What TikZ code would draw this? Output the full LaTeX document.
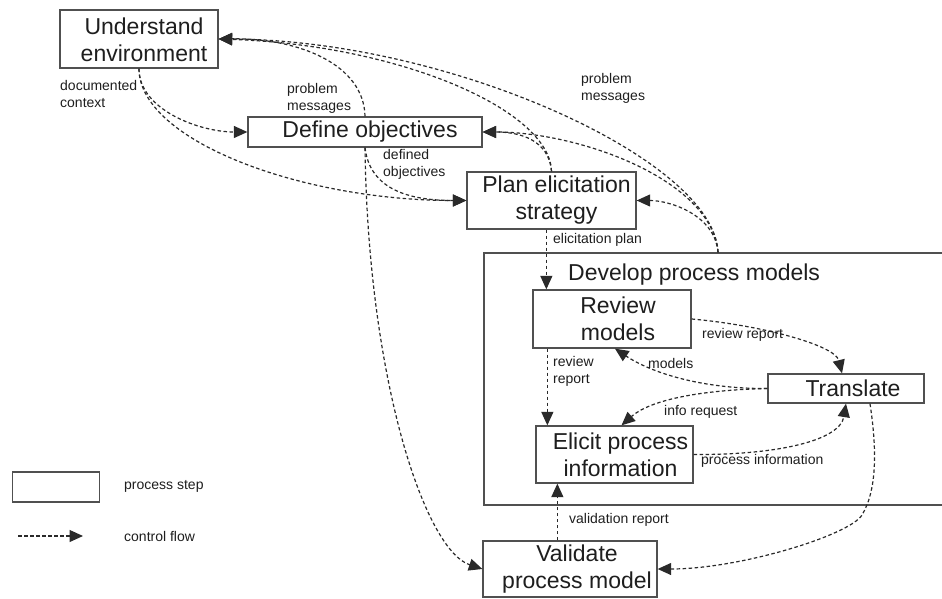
\documentclass[tikz,border=0pt]{standalone}
\usepackage{fontspec}
\setmainfont{Liberation Sans}
\usetikzlibrary{arrows.meta}
\definecolor{ink}{HTML}{1E1E1E}
\definecolor{boxgray}{HTML}{505050}
\definecolor{linegray}{HTML}{2A2A2A}

\begin{document}
\begin{tikzpicture}[x=1pt,y=-1pt,
  stepbox/.style={draw=boxgray, line width=1.3pt, fill=white, inner sep=0pt},
  steptext/.style={font=\fontsize{23}{27}\selectfont, align=center, text=ink, inner sep=0pt},
  lbl/.style={font=\fontsize{14}{17}\selectfont, align=left, anchor=west, text=ink, inner sep=0pt},
  flow/.style={draw=linegray, line width=1.2pt, dash pattern=on 3.5pt off 2.5pt,
    -{Triangle[length=13.5pt,width=12pt]}},
]
\useasboundingbox (0,0) rectangle (942,599);
\clip (0,0) rectangle (942,599);

% enclosing step
\node[stepbox, minimum width=462pt, minimum height=252pt] (dev) at (715,379) {};
\node[steptext, anchor=base west] (dev-t) at (568,280) {Develop process models};

% process steps
\node[stepbox, minimum width=158pt, minimum height=58pt] (ue) at (139,39) {};
\node[steptext] (ue-t) at ([xshift=5pt,yshift=-1pt]ue.center) {Understand\\environment};

\node[stepbox, minimum width=234pt, minimum height=30pt] (do) at (365,132) {};
\node[steptext] (do-t) at ([xshift=5pt]do.center) {Define objectives};

\node[stepbox, minimum width=169pt, minimum height=57pt] (pl) at (551.5,200.5) {};
\node[steptext] (pl-t) at ([xshift=5pt]pl.center) {Plan elicitation\\strategy};

\node[stepbox, minimum width=158pt, minimum height=58pt] (rv) at (612,319) {};
\node[steptext] (rv-t) at ([xshift=6pt]rv.center) {Review\\models};

\node[stepbox, minimum width=156pt, minimum height=29pt] (tr) at (846,388.5) {};
\node[steptext] (tr-t) at ([xshift=7pt]tr.center) {Translate};

\node[stepbox, minimum width=157pt, minimum height=57pt] (el) at (614.5,454.5) {};
\node[steptext] (el-t) at ([xshift=6pt]el.center) {Elicit process\\information};

\node[stepbox, minimum width=174pt, minimum height=56pt] (va) at (570,569) {};
\node[steptext] (va-t) at ([xshift=7pt]va.center) {Validate\\process model};

% attachment points for straight flows
\coordinate (rvin) at ([xshift=14pt]rv.north west);
\coordinate (rvout) at ([xshift=15pt]rv.south west);
\coordinate (vaout) at ([xshift=75pt]va.north west);

% control flows
\draw[flow] (ue.south) .. controls (139,110) and (200,132) .. (do.west);
\draw[flow] (ue.south) .. controls (139,140) and (300,200.5) .. (pl.west);
\draw[flow] (do.north) .. controls (364,65) and (300,38) .. (ue.east);
\draw[flow] (pl.north) .. controls (550,110) and (400,45) .. (ue.east);
\draw[flow] (pl.north) .. controls (549,140) and (520,132) .. (do.east);
\draw[flow] ([xshift=3pt]dev.north) .. controls (715,160) and (450,40) .. (ue.east);
\draw[flow] ([xshift=3pt]dev.north) .. controls (712,180) and (580,132) .. (do.east);
\draw[flow] ([xshift=3pt]dev.north) .. controls (715,215) and (670,200.5) .. (pl.east);
\draw[flow] (do.south) .. controls (370,190) and (410,200.5) .. (pl.west);
\draw[flow] (do.south) .. controls (368,380) and (425,550) .. (va.west);
\draw[flow] (rvin |- pl.south) -- (rvin);
\draw[flow] (rvout) -- (rvout |- el.north);
\draw[flow] (rv.east) .. controls (760,325) and (835,345) .. ([xshift=-4pt]tr.north);
\draw[flow] (tr.west) .. controls (700,389) and (650,372) .. ([xshift=3pt]rv.south);
\draw[flow] (tr.west) .. controls (700,390) and (650,400) .. ([xshift=7pt]el.north);
\draw[flow] (el.east) .. controls (780,455) and (840,440) .. (tr.south);
\draw[flow] (vaout) -- (vaout |- el.south);
\draw[flow] ([xshift=24pt]tr.south) .. controls (877,450) and (877,490) .. (862,515)
  .. controls (850,535) and (740,569) .. (va.east);

% flow labels
\node[lbl] (l-doc) at (60,93.5) {documented\\context};
\node[lbl] (l-pm1) at (287,98.5) {problem\\messages};
\node[lbl] (l-def) at (383,164.5) {defined\\objectives};
\node[lbl] (l-pm2) at (581,88) {problem\\messages};
\node[lbl] (l-ep) at (553,240) {elicitation plan};
\node[lbl] (l-rr1) at (702,335) {review report};
\node[lbl] (l-mod) at (648,363) {models};
\node[lbl] (l-rr2) at (553,371) {review\\report};
\node[lbl] (l-ir) at (664,412) {info request};
\node[lbl] (l-pi) at (701,461) {process information};
\node[lbl] (l-vr) at (569,520) {validation report};

% legend
\node[stepbox, minimum width=87pt, minimum height=30pt] (lg-box) at (56.3,487) {};
\node[lbl] (lg-step) at (124,486) {process step};
\coordinate (lg-a) at (18,536);
\coordinate (lg-b) at (83,536);
\draw[flow] (lg-a) -- (lg-b);
\node[lbl] (lg-flow) at (124,536) {control flow};
\end{tikzpicture}
\end{document}
